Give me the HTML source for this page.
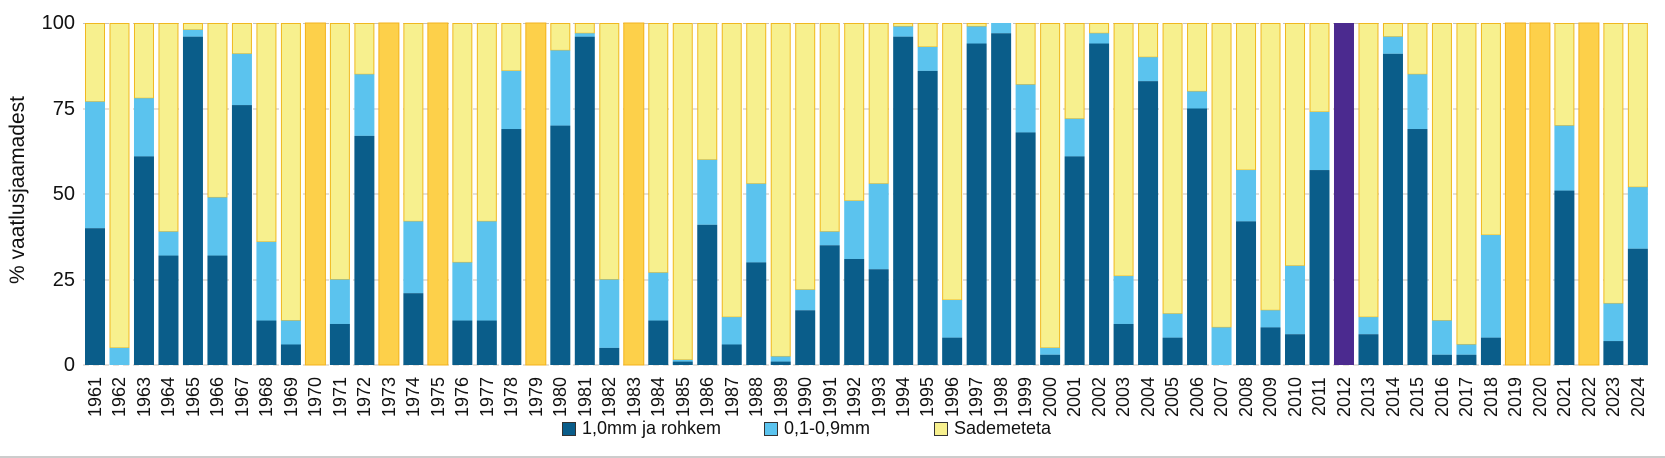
<!DOCTYPE html>
<html><head><meta charset="utf-8"><style>
body{margin:0;background:#fff;width:1665px;height:458px;overflow:hidden;position:relative;font-family:"Liberation Sans Narrow","Liberation Sans",sans-serif;color:#111}
#yrs{position:absolute;left:85px;top:377px;display:flex;}
#yrs div{width:24.49px;display:flex;justify-content:flex-start;}
#yrs span{writing-mode:vertical-rl;transform:rotate(180deg);font-size:18px;line-height:20px;width:20px;text-align:right;}
.tk{position:absolute;right:1590px;font-size:20px;line-height:20px}
.lg{position:absolute;top:418px;font-size:18px;display:flex;align-items:center}
.lg i{display:inline-block;width:14px;height:14px;margin-right:6px;border:1px solid #333;box-sizing:border-box}
</style></head><body>
<svg id="s" width="1665" height="458" style="position:absolute;left:0;top:0">
<g stroke="#c8c0b8" stroke-width="1" stroke-dasharray="6 4">
<line x1="83" x2="1648" y1="23.5" y2="23.5"/><line x1="83" x2="1648" y1="109" y2="109"/><line x1="83" x2="1648" y1="194" y2="194"/><line x1="83" x2="1648" y1="280" y2="280"/><line x1="83" x2="1648" y1="365" y2="365"/>
</g>
<line x1="0" x2="1665" y1="457" y2="457" stroke="#ccc" stroke-width="2"/>
<g id="b"></g>
</svg>
<div class="tk" style="top:13px">100</div>
<div class="tk" style="top:99px">75</div>
<div class="tk" style="top:184px">50</div>
<div class="tk" style="top:270px">25</div>
<div class="tk" style="top:355px">0</div>
<div style="position:absolute;left:18px;top:190px;transform:translate(-50%,-50%) rotate(-90deg);font-size:21px;white-space:nowrap">% vaatlusjaamadest</div>
<div id="yrs"><div><span>1961</span></div><div><span>1962</span></div><div><span>1963</span></div><div><span>1964</span></div><div><span>1965</span></div><div><span>1966</span></div><div><span>1967</span></div><div><span>1968</span></div><div><span>1969</span></div><div><span>1970</span></div><div><span>1971</span></div><div><span>1972</span></div><div><span>1973</span></div><div><span>1974</span></div><div><span>1975</span></div><div><span>1976</span></div><div><span>1977</span></div><div><span>1978</span></div><div><span>1979</span></div><div><span>1980</span></div><div><span>1981</span></div><div><span>1982</span></div><div><span>1983</span></div><div><span>1984</span></div><div><span>1985</span></div><div><span>1986</span></div><div><span>1987</span></div><div><span>1988</span></div><div><span>1989</span></div><div><span>1990</span></div><div><span>1991</span></div><div><span>1992</span></div><div><span>1993</span></div><div><span>1994</span></div><div><span>1995</span></div><div><span>1996</span></div><div><span>1997</span></div><div><span>1998</span></div><div><span>1999</span></div><div><span>2000</span></div><div><span>2001</span></div><div><span>2002</span></div><div><span>2003</span></div><div><span>2004</span></div><div><span>2005</span></div><div><span>2006</span></div><div><span>2007</span></div><div><span>2008</span></div><div><span>2009</span></div><div><span>2010</span></div><div><span>2011</span></div><div><span>2012</span></div><div><span>2013</span></div><div><span>2014</span></div><div><span>2015</span></div><div><span>2016</span></div><div><span>2017</span></div><div><span>2018</span></div><div><span>2019</span></div><div><span>2020</span></div><div><span>2021</span></div><div><span>2022</span></div><div><span>2023</span></div><div><span>2024</span></div></div>
<div class="lg" style="left:562px"><i style="background:#0a5d8a"></i>1,0mm ja rohkem</div>
<div class="lg" style="left:764px"><i style="background:#5bc3ee"></i>0,1-0,9mm</div>
<div class="lg" style="left:934px"><i style="background:#f7f08e"></i>Sademeteta</div>
<script>
var d=[[40,77],[0,5],[61,78],[32,39],[96,98],[32,49],[76,91],[13,36],[6,13],"o",[12,25],[67,85],"o",[21,42],"o",[13,30],[13,42],[69,86],"o",[70,92],[96,97],[5,25],"o",[13,27],[1,1.5],[41,60],[6,14],[30,53],[1,2.5],[16,22],[35,39],[31,48],[28,53],[96,99],[86,93],[8,19],[94,99],[97,100],[68,82],[3,5],[61,72],[94,97],[12,26],[83,90],[8,15],[75,80],[0,11],[42,57],[11,16],[9,29],[57,74],"p",[9,14],[91,96],[69,85],[3,13],[3,6],[8,38],"o","o",[51,70],"o",[7,18],[34,52]];
var h="",Y=function(v){return 365-v*3.42};
d.forEach(function(e,i){var x=85+i*24.49,w=20;
if(e=="o"){h+='<rect x="'+x+'" y="23" width="'+w+'" height="342" fill="#fdd04a" stroke="#f3b21c" stroke-width="1"/>';return}
if(e=="p"){h+='<rect x="'+x+'" y="23" width="'+w+'" height="342" fill="#4b2a8f"/>';return}
var a=e[0],b=e[1];
h+='<rect x="'+(x+.5)+'" y="23.5" width="'+(w-1)+'" height="'+(Y(b)-23.5)+'" fill="#f7f08e" stroke="#f0b820" stroke-width="1"/>';
h+='<rect x="'+x+'" y="'+Y(b)+'" width="'+w+'" height="'+(Y(a)-Y(b))+'" fill="#5bc3ee"/>';
h+='<rect x="'+x+'" y="'+Y(a)+'" width="'+w+'" height="'+(365-Y(a))+'" fill="#0a5d8a"/>';
});
document.getElementById("b").innerHTML=h;
</script>
</body></html>
